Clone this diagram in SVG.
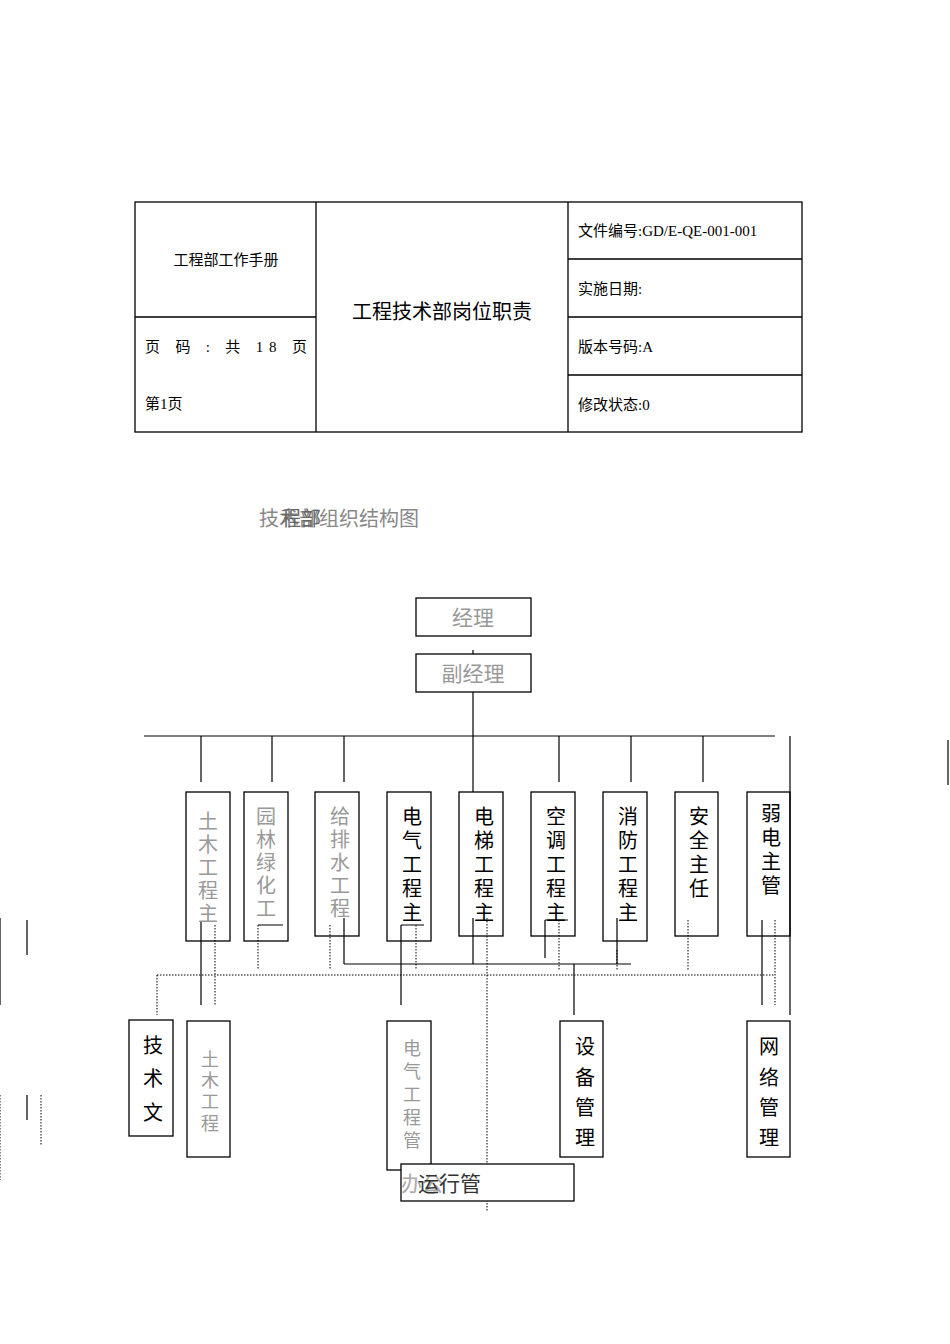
<svg xmlns="http://www.w3.org/2000/svg" width="950" height="1344" viewBox="0 0 950 1344">
<style>
.t{font-family:"Liberation Serif","Noto Sans CJK SC",serif;font-size:15px;fill:#000}
.b{fill:none;stroke:#000;stroke-width:1.3}
.bx{fill:#fff;stroke:#000;stroke-width:1.3}
.v{font-family:"Noto Sans CJK SC",sans-serif;font-size:20px;text-anchor:middle}
.s{font-size:18px}
.g{fill:#999}
.k{fill:#000}
.l{stroke:#000;stroke-width:1.2;fill:none}
.d{stroke:#000;stroke-width:1;stroke-dasharray:1.5 1.5;fill:none}
</style>
<g id="header">
<rect class="b" x="135" y="202" width="667" height="230"/>
<path class="b" d="M316 202V432M568 202V432M135 317H316M568 259H802M568 317H802M568 375H802"/>
<text class="t" x="226" y="265" text-anchor="middle">工程部工作手册</text>
<text class="t" x="145" y="352" textLength="162" lengthAdjust="spacing">页 码 : 共 18 页</text>
<text class="t" x="145" y="409">第1页</text>
<text class="t" x="442" y="319" text-anchor="middle" style="font-size:20px">工程技术部岗位职责</text>
<text class="t" x="578" y="236">文件编号:GD/E-QE-001-001</text>
<text class="t" x="578" y="294">实施日期:</text>
<text class="t" x="578" y="352">版本号码:A</text>
<text class="t" x="578" y="410">修改状态:0</text>
</g>
<g id="title">
<text x="259" y="526" style="font-family:'Noto Sans CJK SC',sans-serif;font-size:20px;fill:#888">技术部组织结构图</text>
<text x="281" y="526" style="font-family:'Noto Sans CJK SC',sans-serif;font-size:20px;fill:#666">程部</text>
</g>
<g id="connectors">
<path class="l" d="M473 650V654M473 692V736M144 736H775M790 736V1015M201 736V782M272 736V782M344 736V782M473 736V792M559 736V782M631 736V782M703 736V782"/>
<path class="l" d="M344 964H631M201 922V1005M258 925H283M344 918V964M401 925V1005M401 925H424M473 918V964M545 920V958M545 920H568M574 964V1015M617 918V964M762 920V1005"/>
<path class="d" d="M157 975H775M157 975V1015M215 925V1005M258 925V970M330 925V970M416 925V970M487 918V1212M559 920V970M617 950V970M688 920V970M775 920V1005"/>
<path class="l" d="M27 920V955M0 918V1005M27 1095V1120M948 740V785"/>
<path class="d" d="M41 1095V1145M0 1095V1180"/>
</g>
<g id="n-jingli"><rect class="bx" x="416" y="598" width="115" height="38"/><text class="v g" x="473" y="625" style="font-size:21px">经理</text></g>
<g id="n-fujingli"><rect class="bx" x="416" y="654" width="115" height="38"/><text class="v g" x="473" y="681" style="font-size:21px">副经理</text></g>
<g id="n1"><rect class="b" x="186" y="792" width="44" height="149"/><text class="v g"><tspan x="208" y="829">土</tspan><tspan x="208" y="852">木</tspan><tspan x="208" y="875">工</tspan><tspan x="208" y="898">程</tspan><tspan x="208" y="921">主</tspan></text></g>
<g id="n2"><rect class="b" x="244" y="792" width="44" height="149"/><text class="v g"><tspan x="266" y="824">园</tspan><tspan x="266" y="847">林</tspan><tspan x="266" y="870">绿</tspan><tspan x="266" y="893">化</tspan><tspan x="266" y="916">工</tspan></text></g>
<g id="n3"><rect class="b" x="315" y="792" width="44" height="144"/><text class="v g"><tspan x="340" y="824">给</tspan><tspan x="340" y="847">排</tspan><tspan x="340" y="870">水</tspan><tspan x="340" y="893">工</tspan><tspan x="340" y="916">程</tspan></text></g>
<g id="n4"><rect class="b" x="387" y="792" width="44" height="149"/><text class="v k"><tspan x="412" y="824">电</tspan><tspan x="412" y="848">气</tspan><tspan x="412" y="872">工</tspan><tspan x="412" y="896">程</tspan><tspan x="412" y="920">主</tspan></text></g>
<g id="n5"><rect class="b" x="459" y="792" width="44" height="144"/><text class="v k"><tspan x="484" y="824">电</tspan><tspan x="484" y="848">梯</tspan><tspan x="484" y="872">工</tspan><tspan x="484" y="896">程</tspan><tspan x="484" y="920">主</tspan></text></g>
<g id="n6"><rect class="b" x="531" y="792" width="44" height="144"/><text class="v k"><tspan x="556" y="824">空</tspan><tspan x="556" y="848">调</tspan><tspan x="556" y="872">工</tspan><tspan x="556" y="896">程</tspan><tspan x="556" y="920">主</tspan></text></g>
<g id="n7"><rect class="b" x="603" y="792" width="44" height="149"/><text class="v k"><tspan x="628" y="824">消</tspan><tspan x="628" y="848">防</tspan><tspan x="628" y="872">工</tspan><tspan x="628" y="896">程</tspan><tspan x="628" y="920">主</tspan></text></g>
<g id="n8"><rect class="b" x="675" y="792" width="43" height="144"/><text class="v k"><tspan x="699" y="824">安</tspan><tspan x="699" y="848">全</tspan><tspan x="699" y="872">主</tspan><tspan x="699" y="896">任</tspan></text></g>
<g id="n9"><rect class="b" x="747" y="792" width="43" height="144"/><text class="v k"><tspan x="771" y="821">弱</tspan><tspan x="771" y="845">电</tspan><tspan x="771" y="869">主</tspan><tspan x="771" y="893">管</tspan></text></g>
<g id="m1"><rect class="bx" x="129" y="1020" width="44" height="116"/><text class="v k"><tspan x="153" y="1053">技</tspan><tspan x="153" y="1086">术</tspan><tspan x="153" y="1120">文</tspan></text></g>
<g id="m2"><rect class="bx" x="187" y="1021" width="43" height="136"/><text class="v g s"><tspan x="210" y="1066">土</tspan><tspan x="210" y="1087">木</tspan><tspan x="210" y="1108">工</tspan><tspan x="210" y="1130">程</tspan></text></g>
<g id="m3"><rect class="bx" x="387" y="1021" width="44" height="149"/><text class="v g s"><tspan x="412" y="1055">电</tspan><tspan x="412" y="1078">气</tspan><tspan x="412" y="1101">工</tspan><tspan x="412" y="1124">程</tspan><tspan x="412" y="1147">管</tspan></text></g>
<g id="m4"><rect class="bx" x="560" y="1021" width="43" height="136"/><text class="v k"><tspan x="585" y="1054">设</tspan><tspan x="585" y="1085">备</tspan><tspan x="585" y="1115">管</tspan><tspan x="585" y="1145">理</tspan></text></g>
<g id="m5"><rect class="bx" x="747" y="1021" width="43" height="136"/><text class="v k"><tspan x="769" y="1054">网</tspan><tspan x="769" y="1085">络</tspan><tspan x="769" y="1115">管</tspan><tspan x="769" y="1145">理</tspan></text></g>
<g id="m6"><rect class="bx" x="401" y="1164" width="173" height="37"/><text x="401" y="1191" style="font-family:'Noto Sans CJK SC',sans-serif;font-size:21px;fill:#aaa">办公</text><text x="418" y="1191" style="font-family:'Noto Sans CJK SC',sans-serif;font-size:21px;fill:#333">运行管</text></g>
</svg>
